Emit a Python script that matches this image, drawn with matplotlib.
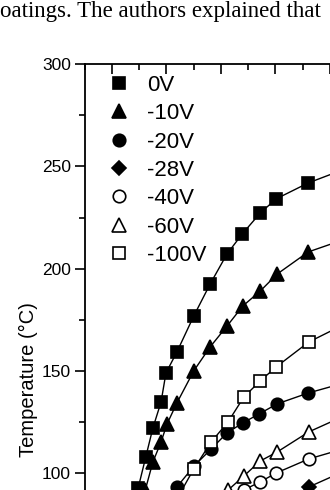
import matplotlib
matplotlib.use("Agg")
import matplotlib.pyplot as plt
from matplotlib.ticker import MultipleLocator, FixedLocator

# Deposition time (x) and temperature (y) for each bias voltage
labels = ["0V", "-10V", "-20V", "-28V", "-40V", "-60V", "-100V"]

x_0v = [3.5, 4.8, 6.2, 7.5, 9.0, 9.9, 11.9, 15.0, 18.0, 21.1, 23.9, 27.2, 30.1, 36.0, 45.0]
y_0v = [80, 92.9, 108.1, 122.2, 134.9, 149.1, 159.3, 176.9, 192.5, 207.2, 217.0, 227.2, 234.1, 241.9, 251.0]

x_10v = [4.8, 6.1, 7.5, 9.0, 10.1, 11.9, 15.0, 18.0, 21.1, 24.0, 27.2, 30.3, 36.0, 45.0]
y_10v = [80, 91.9, 105.6, 115.4, 124.2, 134.4, 150.1, 161.8, 172.0, 181.8, 189.1, 197.4, 208.2, 216.5]

x_20v = [9.0, 11.9, 15.0, 18.2, 21.1, 24.0, 27.0, 30.3, 36.0, 45.0]
y_20v = [83, 93.4, 103.5, 112.0, 119.8, 124.7, 129.1, 134.0, 139.3, 146.0]

x_28v = [30.0, 36.1, 45.0]
y_28v = [83, 93.4, 104.0]

x_40v = [21.0, 24.2, 27.2, 30.1, 36.1, 45.0]
y_40v = [83, 92.0, 95.9, 100.2, 107.1, 114.0]

x_60v = [18.0, 21.3, 24.2, 27.2, 30.3, 36.1, 45.0]
y_60v = [80, 91.9, 98.8, 106.1, 110.5, 120.3, 131.0]

x_100v = [12.0, 15.0, 18.2, 21.3, 24.2, 27.2, 30.1, 36.1, 45.0]
y_100v = [88, 102.2, 115.4, 125.2, 137.4, 145.2, 152.0, 164.2, 176.0]

y_ticks = [100, 150, 200, 250, 300]

series = [(x_0v, y_0v), (x_10v, y_10v), (x_20v, y_20v), (x_28v, y_28v),
          (x_40v, y_40v), (x_60v, y_60v), (x_100v, y_100v)]
markers = [("s", "k", 9), ("^", "k", 9.5), ("o", "k", 9), ("D", "k", 7),
           ("o", "w", 9), ("^", "w", 9.5), ("s", "w", 9)]

plt.rcParams["font.family"] = ["Liberation Sans", "DejaVu Sans"]

fig = plt.figure(figsize=(3.3, 4.9), dpi=100)
# axes run past the bottom and right edge, the reference is a crop of a page
ax = fig.add_axes([0.2568, -0.3006, 1.0735, 1.170])

for (xs, ys), (m, fc, ms), lab in zip(series, markers, labels):
    ax.plot(xs, ys, "-", color="k", lw=1.0)
    ax.plot(xs, ys, ls="none", marker=m, ms=ms, mfc=fc, mec="k", mew=1.2,
            label=lab)

ax.set_xlim(-5, 60)
ax.set_ylim(20, 300)
ax.yaxis.set_major_locator(FixedLocator(y_ticks))
ax.yaxis.set_minor_locator(FixedLocator([125, 175, 225, 275]))
ax.xaxis.set_major_locator(MultipleLocator(10))
ax.xaxis.set_minor_locator(MultipleLocator(5))

ax.tick_params(axis="y", which="both", direction="out", labelsize=12.5,
               width=1.2, pad=3)
ax.tick_params(axis="y", which="major", length=7)
ax.tick_params(axis="y", which="minor", length=4)
ax.tick_params(axis="x", which="both", direction="in", top=True,
               labelbottom=False, width=1.2)
ax.tick_params(axis="x", which="major", length=7)
ax.tick_params(axis="x", which="minor", length=4)
for s in ax.spines.values():
    s.set_linewidth(1.3)

ax.legend(loc="upper left", bbox_to_anchor=(0.067, 0.981), frameon=False,
          fontsize=16, handlelength=0.95, handletextpad=0.8,
          labelspacing=0.33, borderpad=0, borderaxespad=0, numpoints=1)

fig.text(28 / 330, 1 - 380 / 490, "Temperature (°C)", rotation=90,
         ha="center", va="center", fontsize=14.5)

fig.text(0.0, 1 - 17 / 490, "oatings. The authors explained that",
         family="Liberation Serif", fontsize=16.5, va="baseline", ha="left")

fig.savefig("out.png", dpi=100)
